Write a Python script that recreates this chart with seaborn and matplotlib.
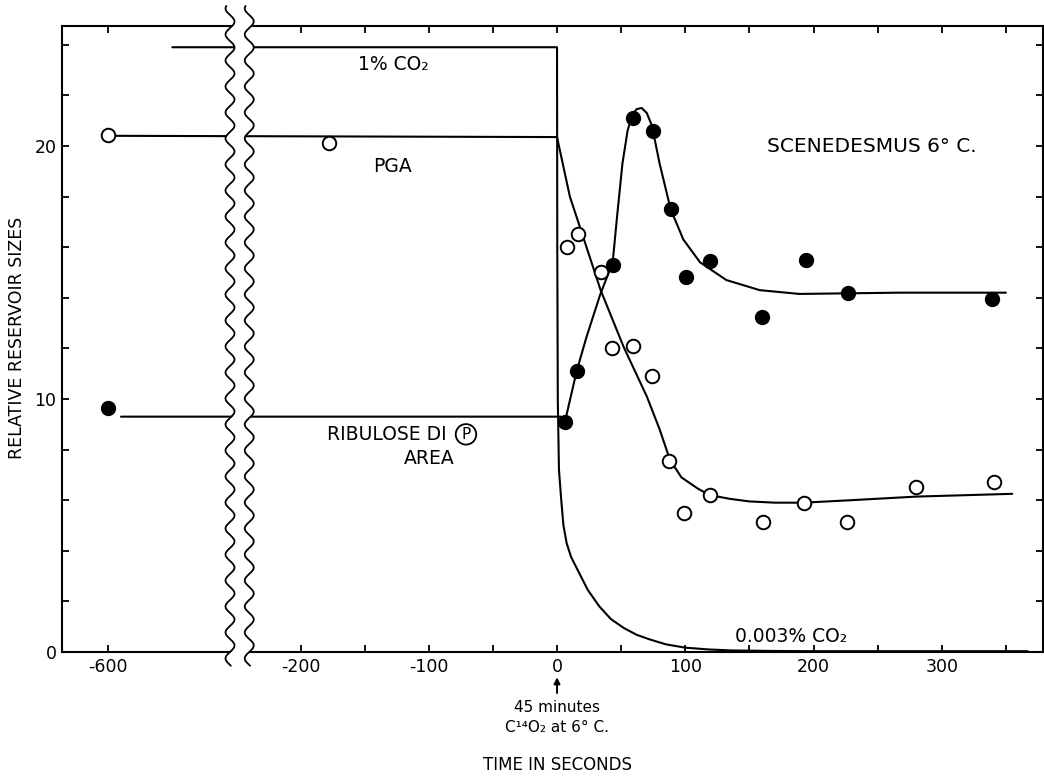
import numpy as np
import matplotlib.pyplot as plt
import matplotlib.transforms as mtransforms
import seaborn as sns

# curves drawn through the points (time in seconds, relative reservoir size)
co2_t = [-550, 0, 0.2, 0.6, 1.5, 3.3, 5, 7.5, 11, 16, 24, 33, 42, 52, 62, 72, 85, 100, 118, 136, 170, 200, 367]
co2_y = [23.9, 23.9, 16.0, 10.0, 7.2, 6.0, 5.0, 4.3, 3.75, 3.25, 2.45, 1.8, 1.3, 0.95, 0.68, 0.5, 0.3, 0.17, 0.1, 0.06, 0.04, 0.03, 0.03]

pga_t = [-600, 0, 10, 16.5, 34, 52, 70, 80, 88, 97, 110, 119, 135, 150, 170, 192, 230, 280, 355]
pga_y = [20.4, 20.35, 18.0, 17.0, 14.3, 12.05, 10.1, 8.8, 7.6, 6.9, 6.45, 6.2, 6.05, 5.95, 5.9, 5.9, 6.0, 6.14, 6.25]

rdp_t = [-590, 3, 6.2, 15.3, 23, 33.5, 43.4, 47, 51, 55, 58.5, 62, 66, 70, 74, 80, 88.6, 98.5, 111.5, 132, 158, 189, 267, 350]
rdp_y = [9.3, 9.3, 9.1, 11.1, 12.45, 14.1, 15.4, 17.3, 19.3, 20.6, 21.2, 21.45, 21.5, 21.3, 20.8, 19.3, 17.5, 16.3, 15.4, 14.7, 14.3, 14.15, 14.2, 14.2]

# measured points
pga_pts_t = [-600, -178, 7.5, 16.6, 34, 43, 59, 74, 87, 99, 119, 161, 192.5, 226, 280, 340.6]
pga_pts_y = [20.45, 20.1, 16.0, 16.5, 15.0, 12.0, 12.1, 10.9, 7.55, 5.5, 6.2, 5.15, 5.9, 5.15, 6.5, 6.7]

rdp_pts_t = [-600, 6.2, 15.3, 43.4, 59.5, 75, 88.6, 100.5, 119, 159.5, 194, 227, 339]
rdp_pts_y = [9.65, 9.1, 11.1, 15.3, 21.1, 20.6, 17.5, 14.8, 15.45, 13.25, 15.5, 14.2, 13.95]

xticks = [-600, -200, -150, -100, -50, 0, 50, 100, 150, 200, 250, 300, 350]
xtick_labels = ['-600', '-200', '', '-100', '', '0', '', '100', '', '200', '', '300', '']
yticks = list(range(0, 25, 2))
ytick_labels = ['0', '', '', '', '', '10', '', '', '', '', '20', '', '']

# broken axis: left piece ends at B, right piece starts at A
A, B, G = -240.0, -505.0, 15.0
XMIN, XMAX = -636, 379


def fwd(x):
    x = np.asarray(x, dtype=float)
    return np.where(x >= A, x, np.where(x >= B, A - (A - x) * G / (A - B), x + (A - G - B)))


def inv(u):
    u = np.asarray(u, dtype=float)
    return np.where(u >= A, u, np.where(u >= A - G, A - (A - u) * (A - B) / G, u - (A - G - B)))


sns.set_style("ticks")
plt.rcParams['font.family'] = ['DejaVu Sans', 'Noto Sans CJK JP']
plt.rcParams['text.color'] = 'black'

fig = plt.figure(figsize=(10.44, 7.78), dpi=100)
ax = fig.add_axes([0.0594, 0.162, 0.9397, 0.8046])

for t, y in [(co2_t, co2_y), (pga_t, pga_y), (rdp_t, rdp_y)]:
    sns.lineplot(x=t, y=y, sort=False, estimator=None, color='black', linewidth=1.5, ax=ax)

sns.scatterplot(x=pga_pts_t, y=pga_pts_y, s=95, color='white', edgecolor='black', linewidth=1.4, zorder=3, ax=ax)
sns.scatterplot(x=rdp_pts_t, y=rdp_pts_y, s=100, color='black', edgecolor='black', linewidth=1.0, zorder=3, ax=ax)

ax.set_xscale('function', functions=(fwd, inv))
ax.set_xlim(XMIN, XMAX)
ax.set_ylim(0, 24.74)
ax.set_xticks(xticks)
ax.set_xticklabels(xtick_labels)
ax.set_yticks(yticks)
ax.set_yticklabels(ytick_labels)
ax.minorticks_off()
ax.tick_params(direction='in', top=True, right=True, length=5, width=1.3,
               labelsize=12.5, pad=4, colors='black')
for sp in ax.spines.values():
    sp.set_linewidth(1.5)
    sp.set_color('black')
    sp.set_visible(True)

# wavy break marks
span = float(fwd(XMAX) - fwd(XMIN))
yy = np.linspace(-0.022, 1.032, 800)
amp = 4.5 / 981
period = 26 / 626
wig = amp * np.sin(2 * np.pi * yy / period)
xl = float(fwd(B) - fwd(XMIN)) / span
xr = float(fwd(A) - fwd(XMIN)) / span
ax.fill_betweenx(yy, xl + wig, xr + wig, transform=ax.transAxes, color='white',
                 clip_on=False, zorder=4, linewidth=0)
for xf in (xl, xr):
    ax.plot(xf + wig, yy, transform=ax.transAxes, color='black', lw=1.3,
            clip_on=False, zorder=5)

# labels inside the plot
txt = dict(fontsize=13.5, color='black')
ax.text(-155, 23.2, '1% CO₂', ha='left', va='center', **txt)
ax.text(-128.6, 19.17, 'PGA', ha='center', va='center', **txt)
ax.text(245.5, 19.96, 'SCENEDESMUS 6° C.', ha='center', va='center', fontsize=14.5)
ax.text(-179, 8.58, 'RIBULOSE DI', ha='left', va='center', **txt)
ax.text(-71, 8.6, 'P', ha='center', va='center', fontsize=11,
        bbox=dict(boxstyle='circle,pad=0.18', facecolor='white', edgecolor='black', linewidth=1.3))
ax.text(-100, 7.63, 'AREA', ha='center', va='center', **txt)
ax.text(139, 0.62, '0.003% CO₂', ha='left', va='center', **txt)

# annotations under the axis
trans = mtransforms.blended_transform_factory(ax.transData, ax.transAxes)
ax.annotate('', xy=(0, -0.036), xytext=(0, -0.07), xycoords=trans, textcoords=trans,
            arrowprops=dict(arrowstyle='-|>', color='black', lw=1.4, mutation_scale=9),
            annotation_clip=False)
ax.text(0, -0.0895, '45 minutes', transform=trans, ha='center', va='center', fontsize=11)
ax.text(0, -0.12, 'C¹⁴O₂ at 6° C.', transform=trans, ha='center', va='center', fontsize=11)
ax.text(0, -0.18, 'TIME IN SECONDS', transform=trans, ha='center', va='center', fontsize=12)

fig.text(17.5 / 1044, 0.566, 'RELATIVE RESERVOIR SIZES', rotation=90,
         ha='center', va='center', fontsize=12.5)

fig.savefig('out.png', dpi=100)
